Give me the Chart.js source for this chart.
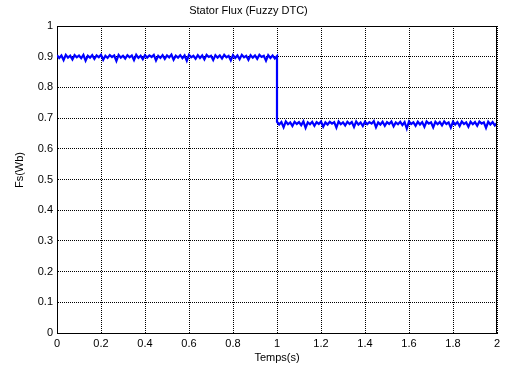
<!DOCTYPE html>
<html>
<head>
<meta charset="utf-8">
<script src="https://cdn.jsdelivr.net/npm/chart.js@4.4.1/dist/chart.umd.min.js"></script>
<style>
html,body{margin:0;padding:0;background:#fff;}
#wrap{width:506px;height:376px;}
</style>
</head>
<body>
<div id="wrap"><canvas id="c" width="506" height="376"></canvas></div>
<script>
// ---- data ----
const chartTitle = 'Stator Flux (Fuzzy DTC)';
const xTitle = 'Temps(s)';
const yTitle = 'Fs(Wb)';
const timeStep = 0.01;
const switchTime = 1;
const xTicks = [0,0.2,0.4,0.6,0.8,1,1.2,1.4,1.6,1.8,2];
const yTicks = [0,0.1,0.2,0.3,0.4,0.5,0.6,0.7,0.8,0.9,1];
// flux samples 0..1 s
const fluxA = [
0.905,0.896,0.904,0.889,0.906,0.897,0.903,0.891,0.905,0.898,
0.904,0.895,0.906,0.887,0.903,0.897,0.905,0.893,0.904,0.898,
0.906,0.890,0.903,0.896,0.905,0.899,0.904,0.886,0.906,0.897,
0.903,0.894,0.905,0.898,0.904,0.889,0.906,0.896,0.903,0.892,
0.905,0.897,0.904,0.899,0.906,0.888,0.903,0.896,0.905,0.893,
0.904,0.898,0.907,0.890,0.903,0.897,0.905,0.895,0.904,0.887,
0.906,0.898,0.903,0.893,0.905,0.896,0.904,0.891,0.906,0.899,
0.903,0.889,0.905,0.897,0.904,0.894,0.906,0.898,0.903,0.888,
0.905,0.896,0.904,0.892,0.906,0.898,0.903,0.890,0.905,0.897,
0.904,0.893,0.906,0.899,0.903,0.887,0.905,0.896,0.904,0.894,
0.902];
// flux samples 1..2 s
const fluxB = [
0.688,0.679,0.687,0.670,0.689,0.680,0.686,0.674,0.688,0.681,
0.687,0.677,0.689,0.668,0.686,0.680,0.688,0.675,0.687,0.681,
0.689,0.672,0.686,0.679,0.688,0.682,0.687,0.669,0.689,0.680,
0.686,0.676,0.688,0.681,0.687,0.671,0.689,0.679,0.686,0.674,
0.688,0.680,0.687,0.682,0.690,0.670,0.686,0.679,0.688,0.675,
0.687,0.681,0.689,0.673,0.686,0.680,0.688,0.677,0.687,0.666,
0.689,0.681,0.686,0.675,0.688,0.679,0.687,0.672,0.689,0.682,
0.686,0.670,0.688,0.680,0.687,0.676,0.689,0.681,0.686,0.669,
0.688,0.679,0.687,0.674,0.689,0.681,0.686,0.672,0.688,0.680,
0.687,0.675,0.689,0.682,0.686,0.668,0.688,0.679,0.687,0.676,
0.684];

// ---- build points ----
const points = [];
fluxA.forEach((v,i)=>points.push({x: +(i*timeStep).toFixed(3), y: v}));
fluxB.forEach((v,i)=>points.push({x: +(switchTime + i*timeStep).toFixed(3), y: v}));

const FONT = 'Liberation Sans, Arial, Helvetica, sans-serif';
const fmt = v => String(Number(v.toFixed(1)));

const boxPlugin = {
  id: 'boxAndYTitle',
  afterDraw(chart){
    const {ctx, chartArea:a} = chart;
    ctx.save();
    ctx.strokeStyle = '#000';
    ctx.lineWidth = 1;
    ctx.beginPath();
    ctx.moveTo(Math.round(a.left)+0.5, Math.round(a.top)+0.5);
    ctx.lineTo(Math.round(a.right)-0.5, Math.round(a.top)+0.5);
    ctx.lineTo(Math.round(a.right)-0.5, Math.round(a.bottom)+0.5);
    ctx.stroke();
    ctx.fillStyle = '#000';
    ctx.font = '11px ' + FONT;
    ctx.textAlign = 'center';
    ctx.textBaseline = 'middle';
    ctx.translate(19.5, 170);
    ctx.rotate(-Math.PI/2);
    ctx.fillText(yTitle, 0, 0);
    ctx.restore();
  }
};

new Chart(document.getElementById('c'), {
  type: 'line',
  data: {
    datasets: [{
      data: points,
      borderColor: '#0000ff',
      borderWidth: 2.2,
      pointRadius: 0,
      tension: 0,
      fill: false
    }]
  },
  options: {
    responsive: false,
    animation: false,
    events: [],
    layout: { padding: { left: 0, right: 9, top: 0, bottom: 0 } },
    plugins: {
      legend: { display: false },
      tooltip: { enabled: false },
      title: {
        display: true,
        text: chartTitle,
        color: '#000',
        font: { family: FONT, size: 11, weight: 'normal' },
        padding: { top: 4.5, bottom: 8.3 }
      }
    },
    scales: {
      x: {
        type: 'linear',
        min: 0, max: 2,
        afterBuildTicks(s){ s.ticks = xTicks.map(v=>({value:v})); },
        afterFit(s){ s.height = 43; },
        ticks: { color:'#000', font:{family:FONT,size:11}, padding:4, maxRotation:0, autoSkip:false, callback: v=>fmt(v) },
        grid: { color:'#000', lineWidth:1, drawTicks:false },
        border: { display:true, color:'#000', width:1, dash:[1,1] },
        title: { display:true, text:xTitle, color:'#000', font:{family:FONT,size:11}, padding:{top:0,bottom:11.5} }
      },
      y: {
        min: 0, max: 1,
        afterBuildTicks(s){ s.ticks = yTicks.map(v=>({value:v})); },
        afterFit(s){ s.width = 57; },
        ticks: { color:'#000', font:{family:FONT,size:11}, padding:4, autoSkip:false, callback: v=>fmt(v) },
        grid: { color:'#000', lineWidth:1, drawTicks:false },
        border: { display:true, color:'#000', width:1, dash:[1,1] }
      }
    }
  },
  plugins: [boxPlugin]
});
</script>
</body>
</html>
